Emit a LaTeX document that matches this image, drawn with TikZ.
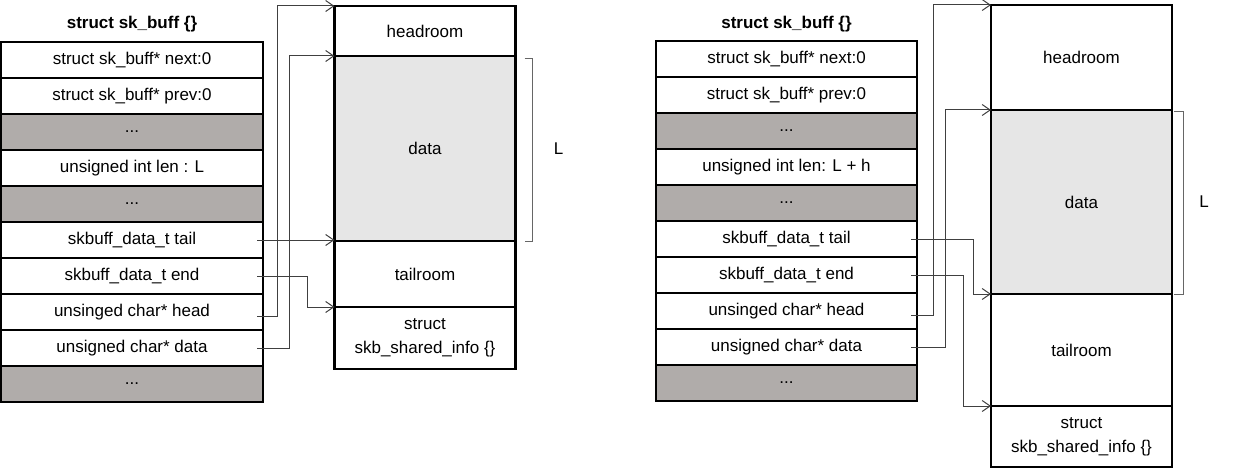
\documentclass[tikz,border=0pt]{standalone}
\usepackage{fontspec}
\setmainfont{Liberation Sans}
\usetikzlibrary{arrows.meta, positioning}
\definecolor{skgray}{HTML}{B0ACAA}
\definecolor{skdata}{HTML}{E6E6E6}
\tikzset{>={Straight Barb[length=8pt,width=11pt]}}
\tikzset{
	field/.style={draw, line width=2.2pt, outer sep=0pt, inner sep=0pt, minimum width=262pt, minimum height=36pt, font=\fontsize{17}{20}\selectfont},
	gap/.style={field, fill=skgray},
	room/.style={draw, line width=2.2pt, outer sep=0pt, inner sep=0pt, minimum width=181pt, align=center, font=\fontsize{17}{24}\selectfont},
	title/.style={font=\fontsize{17}{20}\selectfont\bfseries},
	ptr/.style={->, line width=1pt, draw=black!75},
	brack/.style={line width=1pt, draw=black!60},
}

\begin{document}
\begin{tikzpicture}[x=1pt, y=-1pt]
	\useasboundingbox (0,0) rectangle (1235,468);
	\node[title] (lname) at (132,24) {struct sk\_buff \{\}};
	\foreach \i/\s/\t in {0/field/{struct sk\_buff* next:0}, 1/field/{struct sk\_buff* prev:0}, 2/gap/{...}, 3/field/{unsigned int len : L}, 4/gap/{...}, 5/field/{skbuff\_data\_t tail}, 6/field/{skbuff\_data\_t end}, 7/field/{unsinged char* head}, 8/field/{unsigned char* data}, 9/gap/{...}}
	\node[\s] (l\i) at (132, 60+36*\i) {\t};
	\node[room, minimum height=50pt] (lhr) at (425,31) {headroom};
	\node[room, minimum height=185pt, fill=skdata, below=0pt of lhr] (ldata) {data};
	\node[room, minimum height=66pt, below=0pt of ldata] (ltr) {tailroom};
	\node[room, minimum height=62pt, below=0pt of ltr] (lsi) {struct\\skb\_shared\_info \{\}};
	\draw[brack] ([xshift=9pt,yshift=-3pt]ldata.north east) -- ++(8pt,0) |- ([xshift=9pt]ldata.south east);
	\node (lL) at ([xshift=43pt]ldata.east) {\fontsize{17}{20}\selectfont L};
	\draw[ptr] ([xshift=-6pt,yshift=-4pt]l7.east) -| ([xshift=-57pt]lhr.north west) -- (lhr.north west);
	\draw[ptr] ([xshift=-6pt]l8.east) -| ([xshift=-45pt]ldata.north west) -- (ldata.north west);
	\draw[ptr] ([xshift=-6pt]l5.east) -- (l5.east -| ltr.west);
	\draw[ptr] ([xshift=-6pt]l6.east) -| ([xshift=-27pt]lsi.north west) -- (lsi.north west);

	\node[title] (rname) at (786.5,24) {struct sk\_buff \{\}};
	\foreach \i/\s/\t in {0/field/{struct sk\_buff* next:0}, 1/field/{struct sk\_buff* prev:0}, 2/gap/{...}, 3/field/{unsigned int len: L + h}, 4/gap/{...}, 5/field/{skbuff\_data\_t tail}, 6/field/{skbuff\_data\_t end}, 7/field/{unsinged char* head}, 8/field/{unsigned char* data}, 9/gap/{...}}
	\node[\s, minimum width=261pt] (r\i) at (786.5, 59+36*\i) {\t};
	\node[room, minimum height=105pt] (rhr) at (1081.5,57.5) {headroom};
	\node[room, minimum height=184pt, fill=skdata, below=0pt of rhr] (rdata) {data};
	\node[room, minimum height=112pt, below=0pt of rdata] (rtr) {tailroom};
	\node[room, minimum height=61pt, below=0pt of rtr] (rsi) {struct\\skb\_shared\_info \{\}};
	\draw[brack] ([xshift=2pt,yshift=-2pt]rdata.north east) -- ++(9pt,0) |- ([xshift=2pt]rdata.south east);
	\node (rL) at ([xshift=32pt]rdata.east) {\fontsize{17}{20}\selectfont L};
	\draw[ptr] ([xshift=-6pt,yshift=-4pt]r7.east) -| ([xshift=-58pt]rhr.north west) -- (rhr.north west);
	\draw[ptr] ([xshift=-6pt]r8.east) -| ([xshift=-46pt]rdata.north west) -- (rdata.north west);
	\draw[ptr] ([xshift=-6pt]r5.east) -| ([xshift=-18pt]rtr.north west) -- (rtr.north west);
	\draw[ptr] ([xshift=-6pt]r6.east) -| ([xshift=-28pt]rsi.north west) -- (rsi.north west);
\end{tikzpicture}
\end{document}
